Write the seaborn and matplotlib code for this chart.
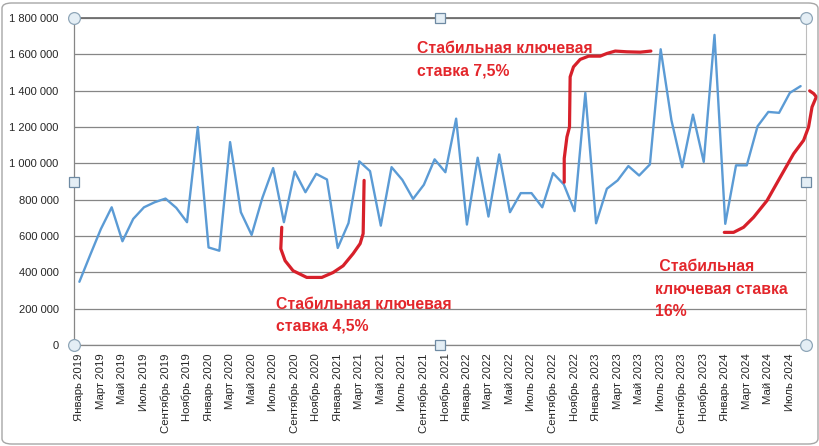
import numpy as np
import pandas as pd
import matplotlib
matplotlib.use("Agg")
import matplotlib.pyplot as plt
import seaborn as sns
from matplotlib.patches import FancyBboxPatch

# ---- data ----
month_names = ["Январь", "Февраль", "Март", "Апрель", "Май", "Июнь",
               "Июль", "Август", "Сентябрь", "Октябрь", "Ноябрь", "Декабрь"]
years = [2019, 2020, 2021, 2022, 2023, 2024]

values = [
    348000, 495000, 639000, 758000, 571000, 694000, 758000, 786000, 806000, 755000, 676000, 1200000,   # 2019
    537000, 519000, 1117000, 731000, 606000, 810000, 974000, 676000, 955000, 841000, 942000, 911000,   # 2020
    534000, 671000, 1011000, 957000, 657000, 979000, 909000, 804000, 882000, 1022000, 951000, 1246000, # 2021
    663000, 1031000, 707000, 1049000, 731000, 836000, 836000, 758000, 946000, 884000, 737000, 1388000, # 2022
    670000, 860000, 906000, 985000, 933000, 994000, 1628000, 1237000, 979000, 1268000, 1008000, 1707000, # 2023
    667000, 989000, 989000, 1204000, 1283000, 1278000, 1388000, 1425000,                              # 2024
]
categories = [f"{m} {y}" for y in years for m in month_names][:len(values)]

y_ticks = [0, 200000, 400000, 600000, 800000, 1000000, 1200000, 1400000, 1600000, 1800000]

# annotation texts
note1 = ["Стабильная ключевая", "ставка 4,5%"]
note2 = ["Стабильная ключевая", "ставка 7,5%"]
note3 = [" Стабильная", "ключевая ставка", "16%"]

# hand-drawn highlight strokes (month index, value)
stroke1_x = [18.80, 18.71, 19.11, 19.85, 21.12, 22.52, 23.57, 24.50, 25.43, 26.08, 26.36, 26.45]
stroke1_y = [648000, 530000, 464000, 409000, 372000, 372000, 399000, 436000, 503000, 558000, 613000, 906000]
stroke2_x = [45.04, 45.04, 45.29, 45.53, 45.59, 45.90, 46.52, 47.30, 48.38, 49.01, 49.78, 50.86, 52.10, 53.09]
stroke2_y = [896000, 1027000, 1145000, 1200000, 1476000, 1531000, 1572000, 1590000, 1590000, 1605000,
             1618000, 1614000, 1612000, 1618000]
stroke3_x = [59.91, 60.77, 61.70, 62.63, 63.88, 65.11, 66.35, 67.28, 67.74, 68.06, 68.46, 68.21, 67.84]
stroke3_y = [620000, 620000, 648000, 703000, 795000, 924000, 1053000, 1127000, 1200000, 1310000,
             1366000, 1384000, 1399000]

# ---- style ----
sns.set_style("white")
plt.rcParams['font.family'] = ['Liberation Sans', 'DejaVu Sans']

W, H = 820, 446
fig = plt.figure(figsize=(W / 100, H / 100), dpi=100)
fig.patch.set_facecolor("white")

# outer chart frame
frame = FancyBboxPatch((2 / W, 2 / H), 816 / W, 441 / H,
                       boxstyle="round,pad=0,rounding_size=0.012",
                       transform=fig.transFigure, facecolor="none",
                       edgecolor="#A6A6A6", linewidth=1.0)
fig.patches.append(frame)

ax = fig.add_axes([74 / W, 1 - 345 / H, (806 - 74) / W, (345 - 18) / H])

n = len(values)
df = pd.DataFrame({"idx": np.arange(n), "value": values})
sns.lineplot(data=df, x="idx", y="value", ax=ax, color="#5B9BD5", linewidth=1.7)

ax.set_xlim(-0.5, n - 0.5)
ax.set_ylim(0, 1800000)
ax.set_yticks(y_ticks)
ax.set_yticklabels([f"{v:,}".replace(",", " ") for v in y_ticks], fontsize=8.0, color="#262626")
ax.grid(axis="y", color="#868686", linewidth=0.9)
ax.grid(axis="x", visible=False)

ax.set_xticks(np.arange(0, n, 2))
ax.set_xticklabels(categories[::2], rotation=90, fontsize=8.2, color="#262626", va="top", ha="center")
ax.set_xticks(np.arange(-0.5, n, 1), minor=True)
ax.tick_params(axis="x", which="major", length=0, pad=6)
ax.tick_params(axis="x", which="minor", length=4, color="#868686", width=0.8, direction="out")
ax.tick_params(axis="y", which="major", length=5, color="#868686", width=0.8, direction="out", pad=6)
ax.set_xlabel("")
ax.set_ylabel("")

for s in ["left", "bottom"]:
    ax.spines[s].set_color("#868686")
    ax.spines[s].set_linewidth(0.9)
ax.spines["top"].set_color("#6E6E6E")
ax.spines["top"].set_linewidth(1.3)
ax.spines["right"].set_color("#BDBDBD")
ax.spines["right"].set_linewidth(0.8)

# hand-drawn red strokes
red_stroke = "#D7202A"
for xs, ys in [(stroke1_x, stroke1_y), (stroke2_x, stroke2_y), (stroke3_x, stroke3_y)]:
    ax.plot(xs, ys, color=red_stroke, linewidth=2.3, solid_capstyle="round",
            solid_joinstyle="round", clip_on=False, zorder=4)

# red notes (baseline of each line)
red_text = "#E3262B"
def put_note(lines, x, y0, dy=120000, dxs=None):
    for i, line in enumerate(lines):
        dx = 0 if dxs is None else dxs[i]
        ax.text(x + dx, y0 - i * dy, line, color=red_text, fontsize=11.3,
                fontweight="bold", va="baseline", ha="left", zorder=5)

put_note(note1, 18.27, 200000)
put_note(note2, 31.35, 1606000)
put_note(note3, 53.45, 408000, dy=125000)

# selection handles (plot-area frame)
hx_c = [0, 1, 0, 1]
hy_c = [0, 0, 1, 1]
ax.plot(hx_c, hy_c, linestyle="none", marker="o", markersize=8.5, markerfacecolor="#E4EEF5",
        markeredgecolor="#8FA6B8", markeredgewidth=0.9, transform=ax.transAxes, clip_on=False, zorder=6)
hx_s = [0.5, 0.5, 0, 1]
hy_s = [0, 1, 0.5, 0.5]
ax.plot(hx_s, hy_s, linestyle="none", marker="s", markersize=6.5, markerfacecolor="#E4EEF5",
        markeredgecolor="#6E8AA3", markeredgewidth=0.9, transform=ax.transAxes, clip_on=False, zorder=6)

fig.savefig("out.png", dpi=100)
